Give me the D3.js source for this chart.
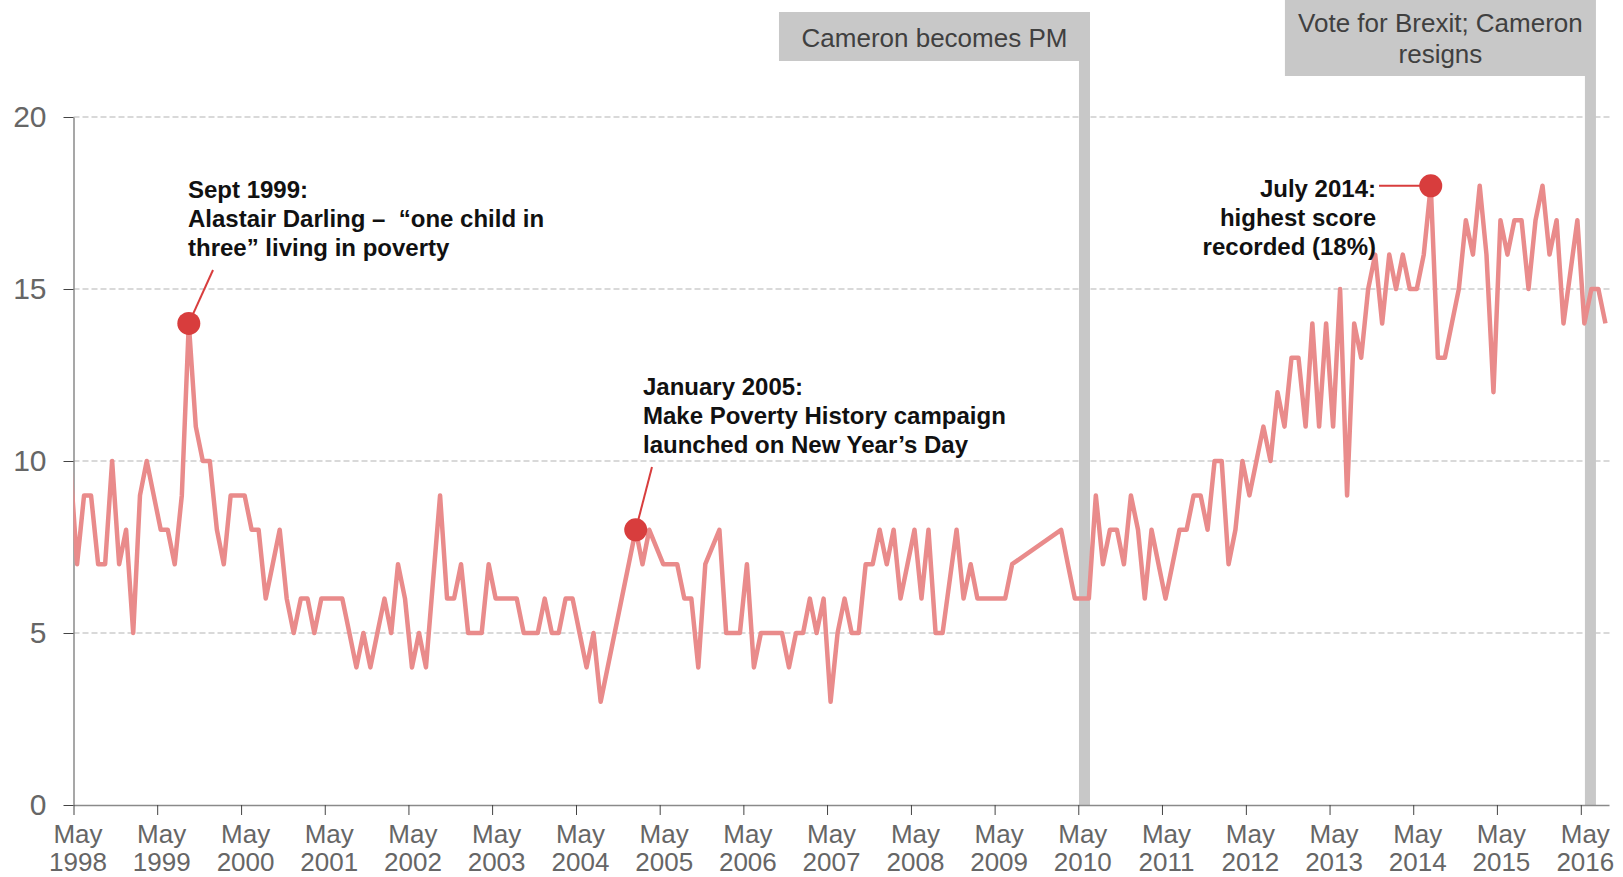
<!DOCTYPE html>
<html>
<head>
<meta charset="utf-8">
<script src="https://cdn.jsdelivr.net/npm/d3@7"></script>
<style>
  html, body { margin: 0; padding: 0; background: #fff; }
  svg { display: block; font-family: "Liberation Sans", Arial, Helvetica, sans-serif; }
  text { white-space: pre; }
</style>
</head>
<body>
<svg id="chart" width="1623" height="877"></svg>
<script>
// monthly score, first value is April 1998, null = no survey that month
var firstMonth = '1998-04';
var povertyScore = [
  10, 7, 9, 9, 7, 7, 10, 7, 8,                        // 1998 (Apr-Dec)
  5, 9, 10, 9, 8, 8, 7, 9, 14, 11, 10, 10,            // 1999
  8, 7, 9, 9, 9, 8, 8, 6, 7, 8, 6, 5,                 // 2000
  6, 6, 5, 6, 6, 6, 6, 5, 4, 5, 4, 5,                 // 2001
  6, 5, 7, 6, 4, 5, 4, null, 9, 6, 6, 7,              // 2002
  5, 5, 5, 7, 6, 6, 6, 6, 5, 5, 5, 6,                 // 2003
  5, 5, 6, 6, 5, 4, 5, 3, null, null, null, null,     // 2004
  8, 7, 8, null, 7, 7, 7, 6, 6, 4, 7, null,           // 2005
  8, 5, 5, 5, 7, 4, 5, 5, 5, 5, 4, 5,                 // 2006
  5, 6, 5, 6, 3, 5, 6, 5, 5, 7, 7, 8,                 // 2007
  7, 8, 6, 7, 8, 6, 8, 5, 5, null, 8, 6,              // 2008
  7, 6, 6, 6, 6, 6, 7, null, null, null, null, null,  // 2009
  null, 8, 7, 6, 6, 6, 9, 7, 8, 8, 7, 9,              // 2010
  8, 6, 8, 7, 6, 7, 8, 8, 9, 9, 8, 10,                // 2011
  10, 7, 8, 10, 9, 10, 11, 10, 12, 11, 13, 13,        // 2012
  11, 14, 11, 14, 11, 15, 9, 14, 13, 15, 16, 14,      // 2013
  16, 15, 16, 15, 15, 16, 18, 13, 13, 14, 15, 17,     // 2014
  16, 18, 16, 12, 17, 16, 17, 17, 15, 17, 18, 16,     // 2015
  17, 14, null, 17, 14, 15, 15, 14                    // 2016 (Jan-Aug)
];

var tickYears = [1998, 1999, 2000, 2001, 2002, 2003, 2004, 2005, 2006, 2007,
                 2008, 2009, 2010, 2011, 2012, 2013, 2014, 2015, 2016];
var yTicks = [0, 5, 10, 15, 20];

var highlightMonths = ['1999-09', '2005-01', '2014-07'];
var highlightNotes = [
  ['Sept 1999:', 'Alastair Darling \u2013  \u201cone child in', 'three\u201d living in poverty'],
  ['January 2005:', 'Make Poverty History campaign', 'launched on New Year\u2019s Day'],
  ['July 2014:', 'highest score', 'recorded (18%)']
];

// where the grey event bars stand
var eventDates = ['2010-05-28', '2016-06-12'];
var eventLabels = [['Cameron becomes PM'], ['Vote for Brexit; Cameron', 'resigns']];

// ---------------------------------------------------------------------------

var W = 1623, H = 877
  , plot = { left: 73.5, right: 1609, top: 117, bottom: 805 }
  , lineColor = '#e98b8b'
  , dotColor = '#d83d3d'
  , barColor = '#c8c8c8'
;

var parseMonth = d3.timeParse('%Y-%m')
  , parseDay = d3.timeParse('%Y-%m-%d');

// points sit in the middle of their month
function midMonth(d) {
  var next = d3.timeMonth.offset(d, 1);
  return new Date((+d + +next) / 2);
}

var start = parseMonth(firstMonth);
var points = povertyScore.map(function (v, i) {
  return { date: midMonth(d3.timeMonth.offset(start, i)), value: v };
}).filter(function (d) { return d.value !== null; });

var x = d3.scaleTime()
    .domain([parseMonth('1998-05'), parseMonth('2016-09')])
    .range([plot.left, plot.right]);

var y = d3.scaleLinear()
    .domain([0, 20])
    .range([plot.bottom, plot.top]);

var svg = d3.select('#chart');

svg.append('defs').append('clipPath')
    .attr('id', 'plot-clip')
  .append('rect')
    .attr('x', plot.left)
    .attr('y', 0)
    .attr('width', plot.right - plot.left + 4)
    .attr('height', H);

// dashed gridlines
svg.append('g')
    .attr('class', 'grid')
  .selectAll('line')
    .data(yTicks.filter(function (v) { return v > 0; }))
    .enter()
  .append('line')
    .attr('x1', plot.left)
    .attr('x2', plot.right + 2)
    .attr('y1', function (d) { return y(d); })
    .attr('y2', function (d) { return y(d); })
    .attr('stroke', '#b3b3b3')
    .attr('stroke-width', 1)
    .attr('stroke-dasharray', '6,3');

// event bars + their label boxes
var boxes = [
  { top: 12, bottom: 61, width: 311, lines: [47] },
  { top: 0, bottom: 76, width: 311, lines: [32, 63] }
];

var events = svg.append('g').attr('class', 'events');

eventDates.forEach(function (s, i) {
  var bx = x(parseDay(s))
    , box = boxes[i]
    , right = bx + 5.5
    , g = events.append('g');

  g.append('rect')
      .attr('x', bx - 5.5)
      .attr('y', box.bottom)
      .attr('width', 11)
      .attr('height', plot.bottom - box.bottom)
      .attr('fill', barColor);

  g.append('rect')
      .attr('x', right - box.width)
      .attr('y', box.top)
      .attr('width', box.width)
      .attr('height', box.bottom - box.top)
      .attr('fill', barColor);

  g.selectAll('text')
      .data(eventLabels[i])
      .enter()
    .append('text')
      .attr('x', right - box.width / 2)
      .attr('y', function (d, j) { return box.lines[j]; })
      .attr('text-anchor', 'middle')
      .attr('font-size', 26)
      .attr('fill', '#404040')
      .text(function (d) { return d; });
});

// axes
var yAxis = d3.axisLeft(y)
    .tickValues(yTicks)
    .tickSize(10)
    .tickSizeOuter(0)
    .tickPadding(17);

var yg = svg.append('g')
    .attr('transform', 'translate(' + plot.left + ',0)')
    .call(yAxis);

yg.select('.domain').attr('stroke', '#8a8a8a').attr('stroke-width', 1.5);
yg.selectAll('.tick line').attr('stroke', '#444');
yg.selectAll('.tick text')
    .attr('font-size', 30)
    .attr('font-family', '"Liberation Sans", Arial, sans-serif')
    .attr('fill', '#666');

var xAxis = d3.axisBottom(x)
    .tickValues(tickYears.map(function (yr) { return new Date(yr, 4, 1); }))
    .tickSize(10)
    .tickSizeOuter(0)
    .tickFormat('');

var xg = svg.append('g')
    .attr('transform', 'translate(0,' + plot.bottom + ')')
    .call(xAxis);

xg.select('.domain').attr('stroke', '#8a8a8a').attr('stroke-width', 1.5);
xg.selectAll('.tick line').attr('stroke', '#444');

xg.selectAll('.tick text')
    .attr('y', null)
    .attr('dy', null)
    .attr('font-size', 26)
    .attr('font-family', '"Liberation Sans", Arial, sans-serif')
    .attr('fill', '#666')
    .each(function (d) {
      var t = d3.select(this);
      t.append('tspan').attr('x', 4).attr('y', 38).text('May');
      t.append('tspan').attr('x', 4).attr('y', 66).text(d.getFullYear());
    });

// the series
var line = d3.line()
    .x(function (d) { return x(d.date); })
    .y(function (d) { return y(d.value); });

svg.append('path')
    .datum(points)
    .attr('clip-path', 'url(#plot-clip)')
    .attr('fill', 'none')
    .attr('stroke', lineColor)
    .attr('stroke-width', 4.5)
    .attr('stroke-linejoin', 'round')
    .attr('d', line);

// highlighted months: leader, dot, note
var notes = [
  { x: 188, lines: [198, 227, 256], anchor: 'start', from: [213, 270] },
  { x: 643, lines: [395, 424, 453], anchor: 'start', from: [652, 467] },
  { x: 1376, lines: [197, 226, 255], anchor: 'end', from: [1379, null] }
];

var hl = svg.append('g').attr('class', 'highlights');

highlightMonths.forEach(function (m, i) {
  var d = parseMonth(m)
    , idx = d3.timeMonth.count(start, d)
    , px = x(midMonth(d))
    , py = y(povertyScore[idx])
    , n = notes[i]
    , fy = n.from[1] === null ? py : n.from[1];

  hl.append('line')
      .attr('x1', n.from[0])
      .attr('y1', fy)
      .attr('x2', px)
      .attr('y2', py)
      .attr('stroke', dotColor)
      .attr('stroke-width', 2);

  hl.append('circle')
      .attr('cx', px)
      .attr('cy', py)
      .attr('r', 11.5)
      .attr('fill', dotColor);

  hl.append('g').selectAll('text')
      .data(highlightNotes[i])
      .enter()
    .append('text')
      .attr('x', n.x)
      .attr('y', function (t, j) { return n.lines[j]; })
      .attr('text-anchor', n.anchor)
      .attr('font-size', 24)
      .attr('font-weight', 'bold')
      .attr('fill', '#111')
      .text(function (t) { return t; });
});
</script>
</body>
</html>
